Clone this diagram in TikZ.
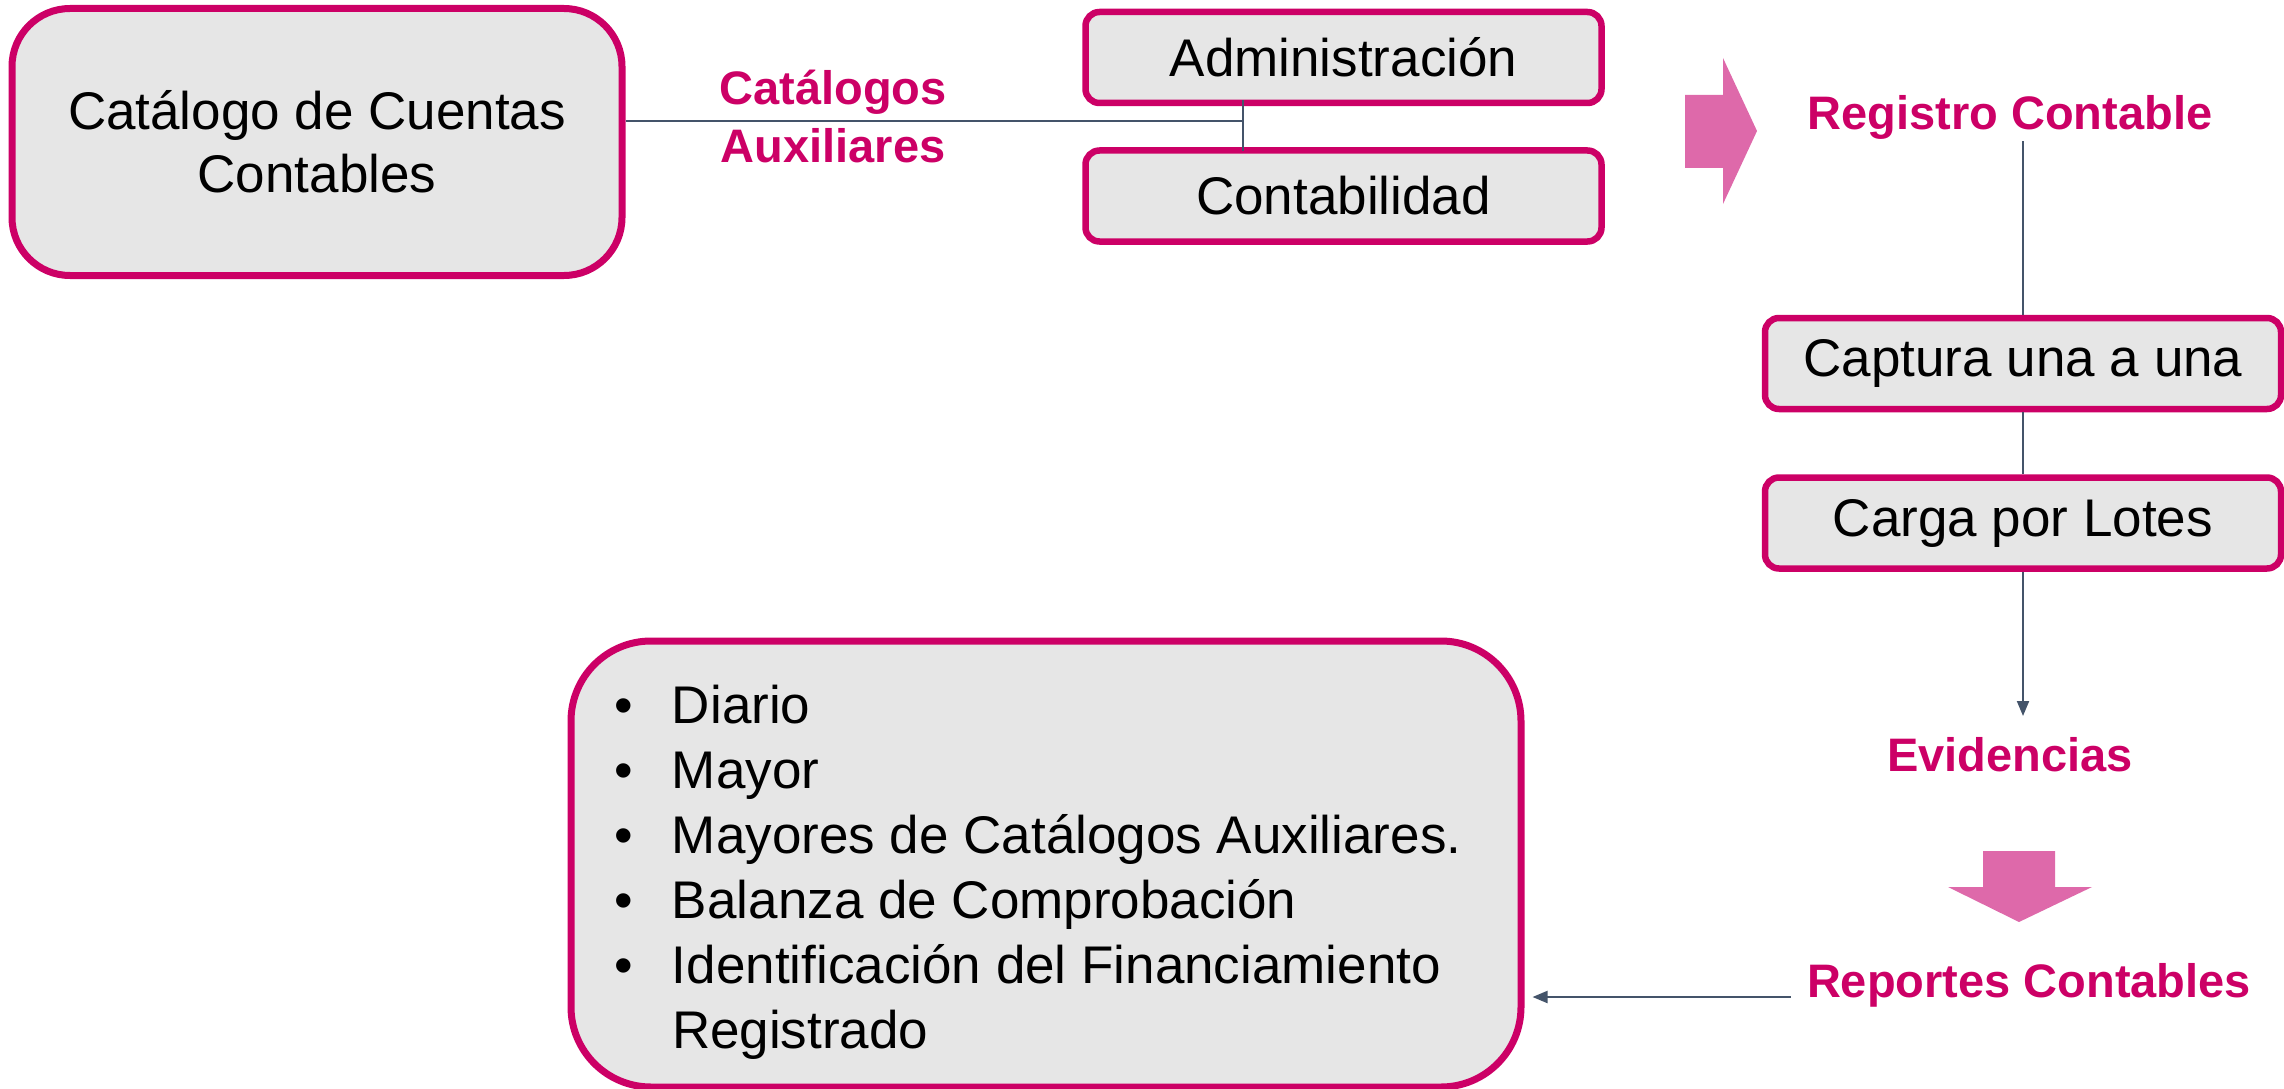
\documentclass[tikz,border=0pt]{standalone}
\usepackage{fontspec}
\setmainfont{Liberation Sans}
\usetikzlibrary{arrows.meta,calc}
\definecolor{mag}{RGB}{204,0,102}
\definecolor{pinkarrow}{RGB}{222,105,170}
\definecolor{slate}{RGB}{68,84,106}
\definecolor{boxfill}{RGB}{230,230,230}
\tikzset{
  bigbox/.style={draw=mag,fill=boxfill,line width=7pt,rounded corners=58pt,inner sep=0pt},
  smallbox/.style={draw=mag,fill=boxfill,line width=6.5pt,rounded corners=14pt,inner sep=0pt,
    minimum width=516pt,minimum height=91pt,font=\fontsize{53}{64}\selectfont},
  lbl/.style={text=mag,font=\fontsize{47}{58}\selectfont\bfseries,align=center,inner sep=2pt},
  conn/.style={draw=slate,line width=2pt},
  arr/.style={conn,-{Triangle[length=15pt,width=12pt]}},
  blockarrow/.style={fill=pinkarrow,draw=none}
}
\begin{document}
\begin{tikzpicture}[x=1pt,y=-1pt]
\useasboundingbox (0,0) rectangle (2284,1089);
% top-left box
\node[bigbox,minimum width=610pt,minimum height=267pt,align=center,
  font=\fontsize{53}{63}\selectfont] (cat) at (317,142) {Catálogo de Cuentas\\Contables};
\node[lbl] (aux) at (833,116) {Catálogos\\Auxiliares};
\node[smallbox] (adm) at (1343.5,57.5) {Administración};
\node[smallbox] (cont) at (1343.5,196) {Contabilidad};
\coordinate (jn) at (1243,121);
\draw[conn] ([yshift=21pt]cat.east) -- (jn);
\draw[conn] ([yshift=6pt]adm.south -| jn) -- ([yshift=-4pt]cont.north -| jn);
% right block arrow
\fill[blockarrow] (1685,95) -- (1723,95) -- (1723,58) -- (1757,131) -- (1723,204) -- (1723,168) -- (1685,168) -- cycle;
\node[lbl] (reg) at (2010,117) {Registro Contable};
\node[smallbox] (cap) at (2023,363.5) {Captura una a una};
\node[smallbox] (carga) at (2023,523) {Carga por Lotes};
\draw[conn] (reg.south -| cap.north) -- (cap.north);
\draw[conn] (cap.south) -- (carga.north);
\node[lbl] (evid) at (2010,755) {Evidencias};
\coordinate (evtop) at (2023,716);
\draw[arr] (carga.south) -- (evtop);
% down block arrow
\fill[blockarrow] (1983,851) -- (2055,851) -- (2055,887) -- (2092,887) -- (2019,922) -- (1948,887) -- (1983,887) -- cycle;
\node[lbl] (rep) at (2029,985) {Reportes Contables};
% big bottom box
\node[bigbox,rounded corners=80pt,minimum width=950pt,minimum height=446pt,
  font=\fontsize{53}{65}\selectfont] (list) at (1046,864) {\makebox[864pt][l]{\raisebox{-9pt}[\height][\depth]{%
  \begin{tabular}{@{}p{58pt}@{}l@{}}
  • & Diario\\
  • & Mayor\\
  • & Mayores de Catálogos Auxiliares.\\
  • & Balanza de Comprobación\\
  • & Identificación del Financiamiento\\
    & Registrado
  \end{tabular}}}};
\draw[arr,shorten >=8pt] ([xshift=-14pt,yshift=-12pt]rep.west) -- ([yshift=-12pt]rep.west -| list.east);
\end{tikzpicture}
\end{document}
